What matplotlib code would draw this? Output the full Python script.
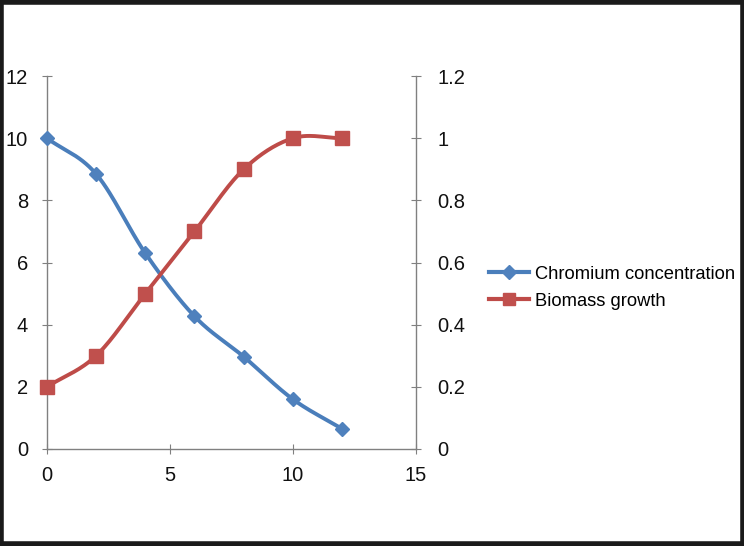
import numpy as np
import matplotlib
matplotlib.use("Agg")
import matplotlib.pyplot as plt
from matplotlib.patches import Rectangle
from matplotlib.lines import Line2D

plt.rcParams['font.family'] = ['Liberation Sans', 'DejaVu Sans']

time = [0, 2, 4, 6, 8, 10, 12]
chromium = [10.0, 8.85, 6.3, 4.27, 2.97, 1.6, 0.65]
biomass = [0.2, 0.3, 0.5, 0.7, 0.9, 1.0, 1.0]
x_ticks = [0, 5, 10, 15]
left_ticks = [0, 2, 4, 6, 8, 10, 12]
right_ticks = [0, 0.2, 0.4, 0.6, 0.8, 1, 1.2]
right_labels = ["0", "0.2", "0.4", "0.6", "0.8", "1", "1.2"]

blue_line = '#4A7EBB'
blue_mark = '#4F81BD'
red_line = '#BE4B48'
red_mark = '#C0504D'


def smooth(x, y, n=30):
    # Catmull-Rom style smoothing (like Excel smoothed lines)
    x = np.asarray(x, float)
    y = np.asarray(y, float)
    px = np.concatenate([[2 * x[0] - x[1]], x, [2 * x[-1] - x[-2]]])
    py = np.concatenate([[2 * y[0] - y[1]], y, [2 * y[-1] - y[-2]]])
    xs, ys = [], []
    t = np.linspace(0, 1, n)
    for i in range(1, len(px) - 2):
        p0, p1, p2, p3 = [np.array([px[j], py[j]]) for j in range(i - 1, i + 3)]
        c1 = p1 + (p2 - p0) / 6
        c2 = p2 - (p3 - p1) / 6
        pts = ((1 - t) ** 3)[:, None] * p1 + (3 * (1 - t) ** 2 * t)[:, None] * c1 \
            + (3 * (1 - t) * t ** 2)[:, None] * c2 + (t ** 3)[:, None] * p2
        xs.extend(pts[:, 0])
        ys.extend(pts[:, 1])
    return np.array(xs), np.array(ys)


fig = plt.figure(figsize=(7.44, 5.46), dpi=100)
ax = fig.add_axes([0.063, 0.1777, 0.496, 0.683])
ax2 = ax.twinx()

sx, sy = smooth(time, chromium)
ax.plot(sx, sy, color=blue_line, lw=2.8, zorder=2, clip_on=False)
ax.plot(time, chromium, ls='none', marker='D', ms=7, color=blue_mark,
        markeredgecolor=blue_mark, zorder=3, clip_on=False)

bx, by = smooth(time, biomass)
ax2.plot(bx, by, color=red_line, lw=2.8, zorder=2, clip_on=False)
ax2.plot(time, biomass, ls='none', marker='s', ms=10, color=red_mark,
         markeredgecolor=red_mark, zorder=3, clip_on=False)

ax.set_xlim(0, 15)
ax.set_ylim(0, 12)
ax2.set_ylim(0, 1.2)
ax.set_xticks(x_ticks)
ax.set_yticks(left_ticks)
ax2.set_yticks(right_ticks)
ax2.set_yticklabels(right_labels)

for a in (ax, ax2):
    for s in a.spines.values():
        s.set_visible(False)
    a.set_facecolor('none')
ax.spines['left'].set_visible(True)
ax.spines['bottom'].set_visible(True)
ax2.spines['right'].set_visible(True)
for s in (ax.spines['left'], ax.spines['bottom'], ax2.spines['right']):
    s.set_color('#808080')
    s.set_linewidth(1)

ax.tick_params(axis='both', direction='inout', length=7, color='#808080',
               labelsize=14.5, labelcolor='#111111')
ax.tick_params(axis='x', pad=9)
ax.tick_params(axis='y', pad=10)
ax2.tick_params(axis='y', direction='inout', length=7, color='#808080',
                labelsize=14.5, labelcolor='#111111', pad=12)

handles = [
    Line2D([], [], color=blue_line, lw=3, marker='D', ms=7, markerfacecolor=blue_mark,
           markeredgecolor=blue_mark),
    Line2D([], [], color=red_line, lw=3, marker='s', ms=8, markerfacecolor=red_mark,
           markeredgecolor=red_mark),
]
fig.legend(handles, ['Chromium concentration', 'Biomass growth'],
           loc='center left', bbox_to_anchor=(0.635, 0.473), frameon=False,
           fontsize=13.2, handlelength=2.2, labelspacing=0.55, handletextpad=0.3)

fig.patches.append(Rectangle((0.002, 0.003), 0.996, 0.994, transform=fig.transFigure,
                             fill=False, edgecolor='#1a1a1a', linewidth=4))

fig.savefig('out.png', dpi=100)
